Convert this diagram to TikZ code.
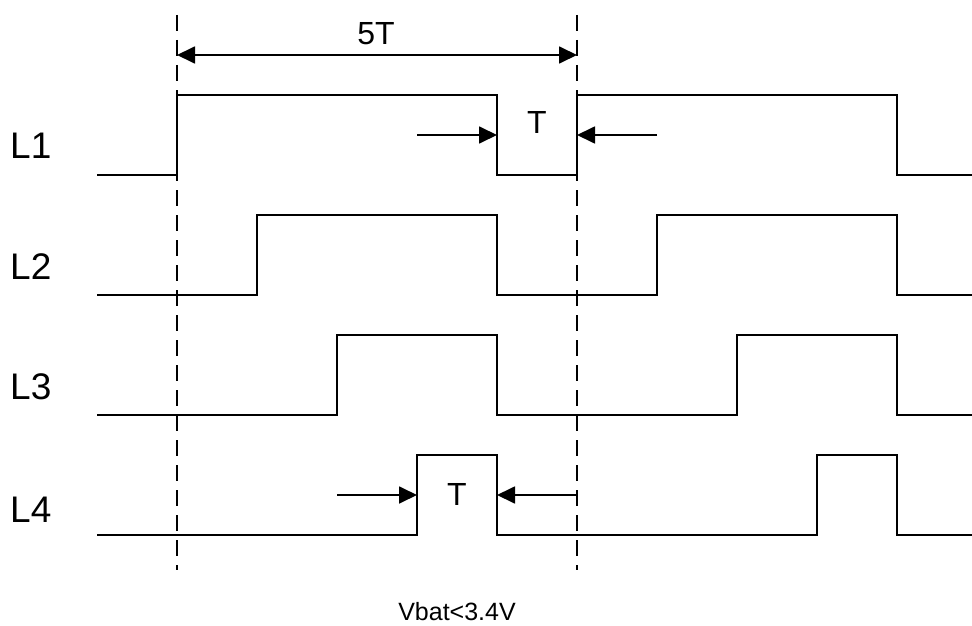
\documentclass[tikz,border=0pt]{standalone}
\usepackage{fontspec}
\setmainfont{Liberation Sans}
\usepackage{tikz}
\usetikzlibrary{arrows.meta}

\begin{document}
\begin{tikzpicture}[x=1pt,y=-1pt,
    signal/.style={line width=1.8pt,line join=miter},
    guide/.style={line width=1.5pt,dash pattern=on 16pt off 9pt},
    span/.style={line width=1.8pt,-{Triangle[length=18pt,width=17pt]}},
    both/.style={line width=1.8pt,{Triangle[length=18pt,width=17pt]}-{Triangle[length=18pt,width=17pt]}},
    chan/.style={font=\fontsize{37}{40}\selectfont,anchor=base west,inner sep=0pt},
    tlabel/.style={font=\fontsize{32}{36}\selectfont,anchor=base,inner sep=0pt}]
  \useasboundingbox (0,0) rectangle (972,626);

  % dashed reference lines
  \coordinate (top0) at (177,15);
  \coordinate (bot0) at (177,570);
  \coordinate (top5) at (577,15);
  \coordinate (bot5) at (577,570);
  \draw[guide] (top0) -- (bot0);
  \draw[guide] (top5) -- (bot5);

  % 5T span
  \coordinate (s0) at (177,55);
  \coordinate (s5) at (577,55);
  \draw[both] (s0) -- (s5);
  \node[tlabel] (period) at (376,45) {5T};

  % the four channels
  \foreach \i/\r/\d in {1/177/17,2/257/16,3/337/16,4/417/13}{
    \pgfmathsetmacro{\lo}{175+120*(\i-1)}
    \pgfmathsetmacro{\hi}{\lo-80}
    \pgfmathsetmacro{\rr}{\r+400}
    \draw[signal] (97,\lo) -- (\r,\lo) -- (\r,\hi) -- (497,\hi) -- (497,\lo)
      -- (\rr,\lo) -- (\rr,\hi) -- (897,\hi) -- (897,\lo) -- (972,\lo);
    \node[chan] (L\i) at (10,\lo-\d) {L\i};
  }

  % pulse width on L1
  \coordinate (a1) at (417,135);
  \coordinate (a2) at (497,135);
  \coordinate (a3) at (657,135);
  \coordinate (a4) at (577,135);
  \draw[span] (a1) -- (a2);
  \draw[span] (a3) -- (a4);
  \node[tlabel] (w1) at (537,133) {T};

  % pulse width on L4
  \coordinate (b1) at (337,495);
  \coordinate (b2) at (417,495);
  \coordinate (b3) at (577,495);
  \coordinate (b4) at (497,495);
  \draw[span] (b1) -- (b2);
  \draw[span] (b3) -- (b4);
  \node[tlabel] (w4) at (457,505) {T};

  \node[font=\fontsize{25}{28}\selectfont,anchor=base,inner sep=0pt] (cond) at (457,620) {Vbat<3.4V};
\end{tikzpicture}
\end{document}
